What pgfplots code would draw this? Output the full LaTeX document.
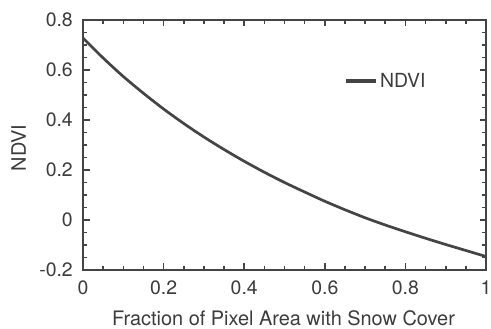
\documentclass[border=0pt]{standalone}
\usepackage{pgfplots}
\pgfplotsset{compat=1.18}
\usepackage{fontspec}
\setmainfont{TeX Gyre Heros}
\definecolor{axgray}{HTML}{444444}
\definecolor{txtgray}{HTML}{3C3C3C}
\begin{document}
\begin{tikzpicture}[x=1bp,y=1bp]
\begin{axis}[
  scale only axis,
  width=403bp, height=250bp,
  xmin=0, xmax=1, ymin=-0.2, ymax=0.8,
  xtick={0,0.2,0.4,0.6,0.8,1}, ytick={-0.2,0,0.2,0.4,0.6,0.8},
  xticklabels={0,0.2,0.4,0.6,0.8,1},
  yticklabels={-0.2,0,0.2,0.4,0.6,0.8},
  minor x tick num=3, minor y tick num=3,
  tick align=inside,
  major tick length=6.5bp, minor tick length=4bp,
  axis line style={axgray, line width=2bp},
  every tick/.style={axgray, line width=1.6bp},
  tick label style={font=\fontsize{19.5}{20}\selectfont, text=txtgray, inner sep=0pt},
  xticklabel style={anchor=north, yshift=-11bp},
  yticklabel style={anchor=east, xshift=-10bp},
  label style={font=\fontsize{20}{20}\selectfont, text=txtgray, inner sep=0pt},
  xlabel={Fraction of Pixel Area with Snow Cover},
  ylabel={NDVI},
  xlabel style={at={(rel axis cs:0.5,0)}, anchor=base, yshift=-55.5bp, xshift=-1bp},
  ylabel style={at={(rel axis cs:0,0.5)}, anchor=base, yshift=57bp, xshift=-3bp},
  legend style={draw=none, fill=none, at={(0.646,0.756)}, anchor=west,
    font=\fontsize{19.5}{20}\selectfont, text=txtgray, inner sep=0pt,
    nodes={inner sep=1.5bp}},
  legend cell align=left,
  legend image code/.code={\draw[#1, line width=4.5bp] (0bp,0bp) -- (30.5bp,0bp);},
]
\addplot[color=axgray, line width=2.7bp, smooth] coordinates {
(0,0.728) (0.05,0.648) (0.1,0.574) (0.15,0.507) (0.2,0.444) (0.25,0.386)
(0.3,0.332) (0.35,0.282) (0.4,0.235) (0.45,0.191) (0.5,0.150) (0.55,0.112)
(0.6,0.075) (0.65,0.041) (0.7,0.009) (0.75,-0.020) (0.8,-0.047) (0.85,-0.073)
(0.9,-0.098) (0.95,-0.122) (1.0,-0.146)
};
\addlegendentry{NDVI}
\coordinate (bl) at (rel axis cs:0,0);
\coordinate (tr) at (rel axis cs:1,1);
\end{axis}
\pgfresetboundingbox
\path ([shift={(-83bp,-59bp)}]bl) rectangle ([shift={(5bp,20bp)}]tr);
\end{tikzpicture}
\end{document}
